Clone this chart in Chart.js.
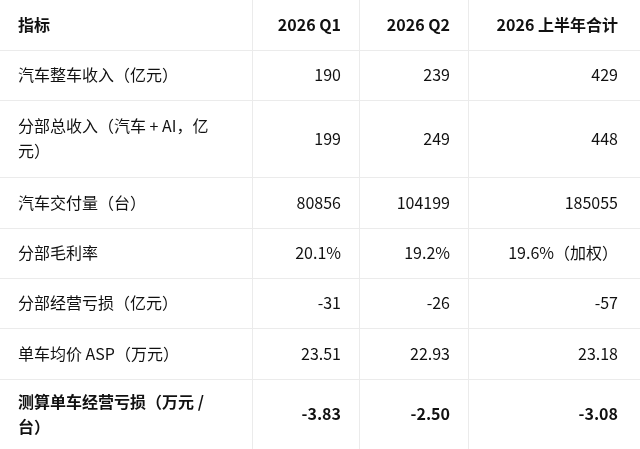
<!DOCTYPE html>
<html>
<head>
<meta charset="utf-8">
<script src="https://cdn.jsdelivr.net/npm/chart.js@4"></script>
<style>
  html, body { margin: 0; padding: 0; background: #fff; }
  #wrap { width: 640px; height: 449px; }
</style>
</head>
<body>
<div id="wrap"><canvas id="table"></canvas></div>
<script>
// table contents
const headers = ['指标', '2026 Q1', '2026 Q2', '2026 上半年合计'];
const metrics = [
  ['汽车整车收入（亿元）'],
  ['分部总收入（汽车 + AI，亿', '元）'],
  ['汽车交付量（台）'],
  ['分部毛利率'],
  ['分部经营亏损（亿元）'],
  ['单车均价 ASP（万元）'],
  ['测算单车经营亏损（万元 /', '台）']
];
const q1 = ['190', '199', '80856', '20.1%', '-31', '23.51', '-3.83'];
const q2 = ['239', '249', '104199', '19.2%', '-26', '22.93', '-2.50'];
const h1 = ['429', '448', '185055', '19.6%（加权）', '-57', '23.18', '-3.08'];
const boldRows = [6];

// layout (pixel-space values on the hidden linear scales)
const colEdges = [0, 252, 359, 468, 640];
const rowEdges = [0, 50, 100, 177, 228, 278, 328, 379, 449];

const FONT = '"Noto Sans CJK SC", "Noto Sans", sans-serif';

const tablePlugin = {
  id: 'tableCells',
  afterDraw(chart) {
    const { ctx, scales: { x, y } } = chart;
    const px = v => x.getPixelForValue(v);
    const py = v => y.getPixelForValue(v);
    ctx.save();
    ctx.strokeStyle = '#ebebeb';
    ctx.lineWidth = 1;
    rowEdges.slice(1, -1).forEach(r => {
      ctx.beginPath(); ctx.moveTo(px(0), Math.round(py(r)) + 0.5);
      ctx.lineTo(px(640), Math.round(py(r)) + 0.5); ctx.stroke();
    });
    colEdges.slice(1, -1).forEach(c => {
      ctx.beginPath(); ctx.moveTo(Math.round(px(c)) + 0.5, py(0));
      ctx.lineTo(Math.round(px(c)) + 0.5, py(449)); ctx.stroke();
    });
    ctx.fillStyle = '#111';
    ctx.textBaseline = 'middle';
    const cell = (text, col, row, bold) => {
      ctx.font = (bold ? 'bold ' : '') + '16px ' + FONT;
      const midY = (py(rowEdges[row]) + py(rowEdges[row + 1])) / 2;
      const lines = Array.isArray(text) ? text : [text];
      const lh = 25;
      lines.forEach((ln, i) => {
        const yy = midY + (i - (lines.length - 1) / 2) * lh;
        if (col === 0) { ctx.textAlign = 'left'; ctx.fillText(ln, px(colEdges[0]) + 18, yy); }
        else { ctx.textAlign = 'right'; ctx.fillText(ln, px(colEdges[col + 1]) - (col === 3 ? 22 : 18), yy); }
      });
    };
    headers.forEach((h, c) => cell(h, c, 0, true));
    metrics.forEach((m, i) => {
      const b = boldRows.includes(i);
      cell(m, 0, i + 1, b);
      cell(q1[i], 1, i + 1, b);
      cell(q2[i], 2, i + 1, b);
      cell(h1[i], 3, i + 1, b);
    });
    ctx.restore();
  }
};

new Chart(document.getElementById('table'), {
  type: 'scatter',
  data: { datasets: [{ data: [] }] },
  options: {
    responsive: true,
    maintainAspectRatio: false,
    animation: false,
    layout: { padding: 0 },
    plugins: { legend: { display: false }, tooltip: { enabled: false } },
    scales: {
      x: { type: 'linear', min: 0, max: 640, display: false },
      y: { type: 'linear', min: 0, max: 449, reverse: true, display: false }
    }
  },
  plugins: [tablePlugin]
});
</script>
</body>
</html>
